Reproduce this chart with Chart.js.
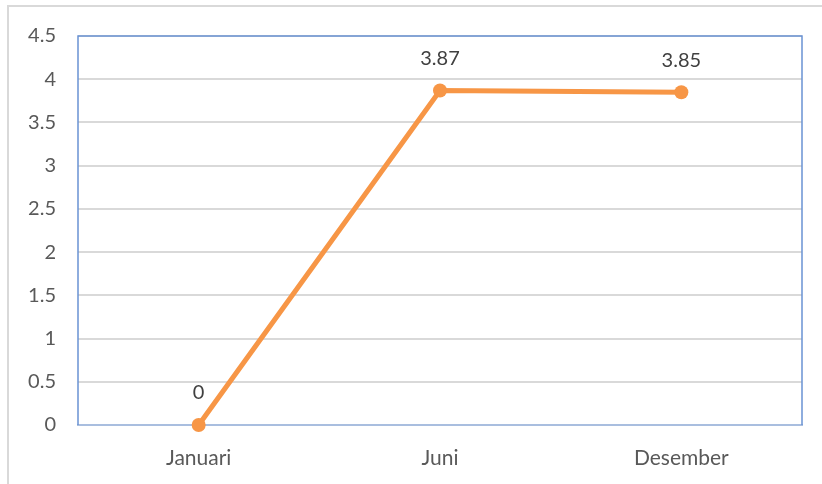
<!DOCTYPE html>
<html>
<head>
<meta charset="utf-8">
<script src="https://cdn.jsdelivr.net/npm/chart.js@4"></script>
<style>
  html, body { margin: 0; padding: 0; background: #fff; }
  #wrap { width: 822px; height: 484px; position: relative; }
</style>
</head>
<body>
<div id="wrap"><canvas id="chart" width="822" height="484"></canvas></div>
<script>
// Данные графика
const months = ["Januari", "Juni", "Desember"];
const values = [0, 3.87, 3.85];
const valueLabels = ["0", "3.87", "3.85"];

const FONT = "Lato, 'Open Sans', sans-serif";

// Рамка вокруг всего рисунка и синяя рамка области построения, подписи значений
const framePlugin = {
  id: "frame",
  beforeDraw(chart) {
    const ctx = chart.ctx;
    ctx.save();
    ctx.strokeStyle = "#D9D9D9";
    ctx.lineWidth = 2;
    ctx.beginPath();
    ctx.moveTo(8, 484);
    ctx.lineTo(8, 6);
    ctx.lineTo(822, 6);
    ctx.stroke();
    ctx.restore();
  },
  afterDatasetsDraw(chart) {
    const ctx = chart.ctx;
    const a = chart.chartArea;
    ctx.save();
    ctx.strokeStyle = "#6A93D4";
    ctx.lineWidth = 1.5;
    ctx.beginPath();
    ctx.moveTo(a.left, a.bottom);
    ctx.lineTo(a.left, a.top);
    ctx.lineTo(a.right, a.top);
    ctx.lineTo(a.right, a.bottom);
    ctx.stroke();
    // Подписи над точками
    const meta = chart.getDatasetMeta(0);
    ctx.fillStyle = "#404040";
    ctx.font = "20px " + FONT;
    ctx.textAlign = "center";
    ctx.textBaseline = "middle";
    meta.data.forEach((pt, i) => {
      ctx.fillText(valueLabels[i], pt.x, pt.y - 32);
    });
    ctx.restore();
  }
};

new Chart(document.getElementById("chart").getContext("2d"), {
  type: "line",
  data: {
    labels: months,
    datasets: [{
      data: values,
      borderColor: "#F79646",
      backgroundColor: "#F79646",
      borderWidth: 5,
      pointRadius: 7,
      pointHoverRadius: 7,
      pointBackgroundColor: "#F79646",
      pointBorderWidth: 0,
      tension: 0,
      clip: false
    }]
  },
  options: {
    responsive: false,
    animation: false,
    devicePixelRatio: 1,
    layout: { padding: { left: 8, top: 36, right: 20, bottom: 0 } },
    plugins: {
      legend: { display: false },
      tooltip: { enabled: false }
    },
    scales: {
      x: {
        offset: true,
        grid: { display: false, drawTicks: false },
        border: { display: true, color: "#A9BEDF", width: 2 },
        ticks: {
          color: "#595959",
          font: { family: FONT, size: 21 },
          padding: 21
        },
        afterFit: axis => { axis.height = 59; }
      },
      y: {
        min: 0,
        max: 4.5,
        grid: { color: "#D9D9D9", lineWidth: 2, drawTicks: false },
        border: { display: false },
        ticks: {
          stepSize: 0.5,
          color: "#595959",
          font: { family: FONT, size: 20 },
          padding: 22,
          callback: v => String(v)
        },
        afterFit: axis => { axis.width = 70; }
      }
    }
  },
  plugins: [framePlugin]
});
</script>
</body>
</html>
